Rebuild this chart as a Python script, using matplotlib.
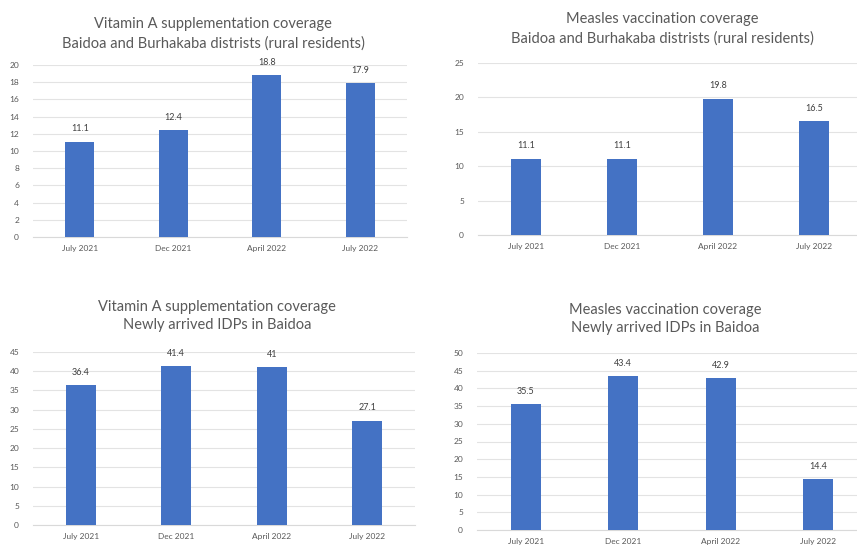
import matplotlib.pyplot as plt

plt.rcParams['font.family'] = ['Lato', 'DejaVu Sans']

# data
periods = ["July 2021", "Dec 2021", "April 2022", "July 2022"]
vita_rural = [11.1, 12.4, 18.8, 17.9]
measles_rural = [11.1, 11.1, 19.8, 16.5]
vita_idp = [36.4, 41.4, 41, 27.1]
measles_idp = [35.5, 43.4, 42.9, 14.4]

titles = [
    "Vitamin A supplementation coverage\nBaidoa and Burhakaba distrists (rural residents)",
    "Measles vaccination coverage\nBaidoa and Burhakaba distrists (rural residents)",
    "Vitamin A supplementation coverage\nNewly arrived IDPs in Baidoa",
    "Measles vaccination coverage\nNewly arrived IDPs in Baidoa",
]
ymax = [20, 25, 45, 50]
ystep = [2, 5, 5, 5]
series = [vita_rural, measles_rural, vita_idp, measles_idp]

W, H = 857, 550
fig = plt.figure(figsize=(W / 100, H / 100), dpi=100)

# axes boxes in pixels: left, right, top, bottom
boxes = [(33, 407, 65, 237), (478, 862, 63, 235), (33, 415, 352, 525), (477, 867, 353, 530)]
title_pos = [(213, 34), (662, 29), (217, 316), (665, 319)]

bar_color = "#4472C4"
txt = "#595959"

for i in range(4):
    l, r, t, b = boxes[i]
    ax = fig.add_axes([l / W, 1 - b / H, (r - l) / W, (b - t) / H])
    vals = series[i]
    x = range(len(periods))
    ax.bar(x, vals, width=0.31, color=bar_color, zorder=3)
    ax.set_xlim(-0.5, 3.5)
    ax.set_ylim(0, ymax[i])
    ax.set_yticks(range(0, ymax[i] + 1, ystep[i]))
    ax.set_xticks(list(x))
    ax.set_xticklabels(periods)
    ax.tick_params(axis='both', length=0, labelsize=6, colors=txt)
    ax.tick_params(axis='y', pad=10)
    ax.tick_params(axis='x', pad=6)
    ax.yaxis.grid(True, color="#E3E3E3", linewidth=0.8, zorder=0)
    for s in ["top", "right", "left"]:
        ax.spines[s].set_visible(False)
    ax.spines["bottom"].set_color("#D9D9D9")
    for xi, v in zip(x, vals):
        ax.annotate(str(v), (xi, v), xytext=(0, 6), textcoords="offset points",
                    ha="center", va="bottom", fontsize=6.5, color="#404040")
    tx, ty = title_pos[i]
    fig.text(tx / W, 1 - ty / H, titles[i], ha="center", va="center",
             fontsize=10.5, color=txt, linespacing=1.45)

fig.savefig("out.png", dpi=100, facecolor="white")
